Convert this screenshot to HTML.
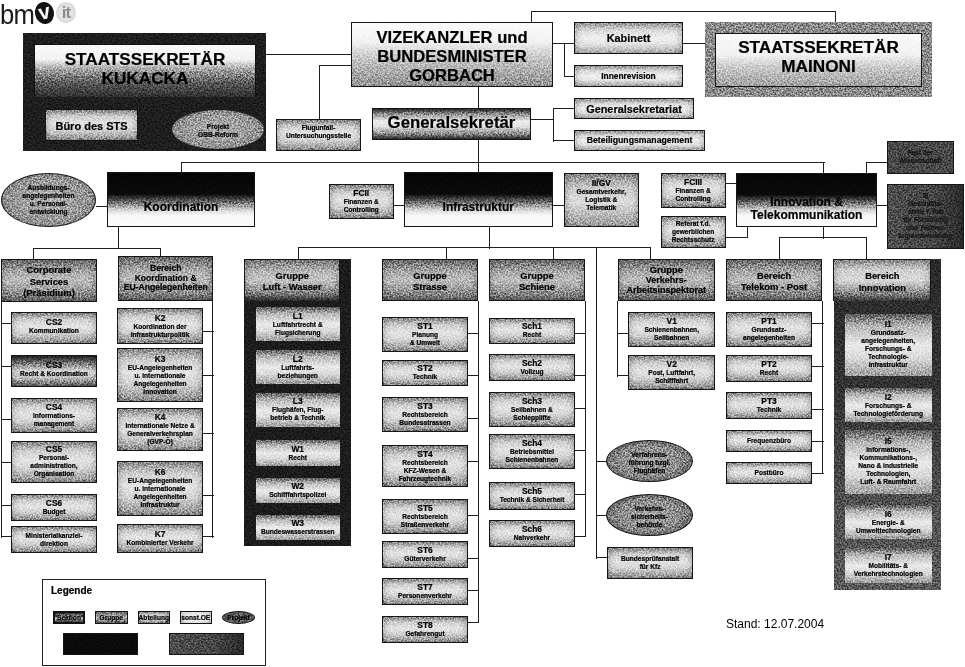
<!DOCTYPE html>
<html><head><meta charset="utf-8"><title>bmvit Organigramm</title>
<style>
html,body{margin:0;padding:0;background:#fff;}
#pg{position:relative;width:965px;height:667px;overflow:hidden;background:#fff;font-family:"Liberation Sans",sans-serif;color:#000;}
.l{position:absolute;background:#1e1e1e;}
.b{position:absolute;box-sizing:border-box;border:1.5px solid #151515;text-align:center;overflow:hidden;display:flex;flex-direction:column;justify-content:center;align-items:center;white-space:nowrap;-webkit-text-stroke:0.2px #000;}
.ab{background:linear-gradient(to bottom,#8a8a8a 0%,#cfcfcf 22%,#e4e4e4 45%,#d6d6d6 65%,#a8a8a8 88%,#858585 100%);}
.gr{background:linear-gradient(to bottom,#6a6a6a 0%,#a9a9a9 30%,#bdbdbd 50%,#9a9a9a 75%,#5e5e5e 100%);}
.sek{background:linear-gradient(to bottom,#050505 0%,#0a0a0a 40%,#6a6a6a 55%,#d8d8d8 70%,#f8f8f8 80%,#fafafa 100%);}
.col{background:#1c1c1c;border:none;}
.ell{border-radius:50%;background:radial-gradient(ellipse at center,#b4b4b4 0%,#969696 55%,#6a6a6a 100%);border:1.2px solid #1a1a1a;}
.ell2{background:radial-gradient(ellipse at center,#a4a4a4 0%,#8c8c8c 50%,#5e5e5e 82%,#363636 100%);border:1.8px solid #111;}
.dk{background:#484848;}
.dk2{background:linear-gradient(to right,#4e4e4e 0%,#464646 60%,#2a2a2a 100%);}
.blk{background:#0a0a0a;}
.stsout{background:#1e1e1e;border:none;}
.stsin{background:linear-gradient(to bottom,#fafafa 0%,#f2f2f2 28%,#a0a0a0 48%,#5a5a5a 72%,#2e2e2e 100%);border:1.5px solid #111;border-bottom:none;}
.stsout2{background:#8a8a8a;border:none;}
.stsin2{background:linear-gradient(to bottom,#fafafa 0%,#f2f2f2 40%,#c8c8c8 65%,#a0a0a0 100%);}
.viz{background:linear-gradient(to bottom,#fbfbfb 0%,#f2f2f2 30%,#c8c8c8 55%,#a8a8a8 80%,#909090 100%);}
.gs{background:linear-gradient(to bottom,#222 0%,#8a8a8a 16%,#ececec 40%,#e2e2e2 58%,#858585 84%,#222 100%);}
.big{font-weight:bold;font-size:17.2px;line-height:19px;}
.big2{font-weight:bold;font-size:16.6px;line-height:19.2px;margin-top:4px;}
.gst{font-weight:bold;font-size:16.8px;line-height:20px;margin-top:-2px;}
.sekt{font-weight:bold;font-size:12px;line-height:13.5px;margin-top:16px;}
.t11b{font-weight:bold;font-size:10.9px;line-height:12px;}
.t10b{font-weight:bold;font-size:10px;line-height:12px;}
.t9b{font-weight:bold;font-size:8.4px;line-height:9px;}
.t7b{font-weight:bold;font-size:6.6px;line-height:8px;}
.t7{font-weight:bold;font-size:6.6px;line-height:8.2px;}
.t6{font-weight:bold;font-size:6.6px;line-height:8px;}
.code{font-weight:bold;font-size:8.4px;line-height:9px;}
.desc{font-weight:bold;font-size:6.6px;line-height:8px;}
.grt{font-weight:bold;font-size:9.4px;line-height:11.5px;margin-top:2px;}
.grt2{font-weight:bold;font-size:8.6px;line-height:9.4px;}
.grt3{font-weight:bold;font-size:9.4px;line-height:10px;}
.grt3 span{font-size:9px;}
.lw{background:linear-gradient(to bottom,#5a5a5a 0%,#b8b8b8 20%,#eaeaea 50%,#d8d8d8 72%,#9a9a9a 100%);border:none;}
.leg{background:#fff;border:1px solid #222;}
.b>div.legt{font-weight:bold;font-size:10px;position:absolute;left:8px;top:5px;line-height:12px;}
.lg{border-width:1.2px;}
.lg2{border-width:1.2px;}
.wh{background:#eee;}
.dkt{color:#222;}
.logo{position:absolute;left:0;top:0;width:80px;height:26px;}
.bm{position:absolute;left:0px;top:0px;font-size:27px;line-height:30px;color:#1a1a1a;transform:scaleX(0.95);transform-origin:0 0;letter-spacing:-0.8px;}
.vc{position:absolute;left:35px;top:1.5px;width:19px;height:22px;border-radius:50%;background:#111;color:#fafafa;text-align:center;font-size:21px;line-height:20px;font-weight:bold;transform:rotate(-12deg);}
.it{position:absolute;left:56px;top:2px;width:20px;height:21px;border-radius:50%;background:radial-gradient(ellipse at center,#f0f0f0 0%,#e0e0e0 55%,#cfcfcf 85%,#f4f4f4 100%);color:#8c8c8c;font-size:17px;line-height:21px;font-weight:bold;text-align:center;letter-spacing:-1px;filter:blur(0.6px);}
.stand{position:absolute;left:726px;top:617px;font-size:12px;line-height:15px;}
.cs3{background:linear-gradient(to bottom,#202020 0%,#7a7a7a 25%,#d8d8d8 50%,#c8c8c8 70%,#555 100%);}
.gvx{background:linear-gradient(to bottom,#8a8a8a 0%,#d0d0d0 30%,#dcdcdc 55%,#999 100%);}

.nz{position:absolute;left:0;top:0;right:0;bottom:0;filter:url(#nf);mix-blend-mode:overlay;opacity:0.5;}
.b>div{position:relative;}

.col2{background:linear-gradient(to bottom,#2a2a2a 0%,#333 40%,#505050 75%,#5a5a5a 100%);border:none;}
.lgs{background:linear-gradient(to bottom,#222 0%,#9a9a9a 35%,#b0b0b0 60%,#333 100%);border:2px solid #111;}
.lge{border-radius:50%;background:radial-gradient(ellipse at center,#707070 0%,#555 70%,#333 100%);border:1.2px solid #111;}
.abl{background:linear-gradient(to bottom,#9a9a9a 0%,#dadada 25%,#f0f0f0 50%,#e4e4e4 70%,#aaaaaa 100%);}
.grx{background:linear-gradient(to bottom,#8a8a8a 0%,#d0d0d0 25%,#d8d8d8 50%,#9a9a9a 75%,#3a3a3a 100%);border:1.5px solid #151515;border-bottom:none;}
.grw{background:linear-gradient(to bottom,#7a7a7a 0%,#b8b8b8 30%,#c4c4c4 50%,#8a8a8a 78%,#2a2a2a 100%);border:1.5px solid #151515;border-bottom:none;}
.c1{padding-bottom:4px;}

.ab,.gr{box-shadow:inset 5px 0 6px -3px rgba(0,0,0,.22),inset -5px 0 6px -3px rgba(0,0,0,.22);}
.lw{box-shadow:none;}

</style></head><body>
<svg width="0" height="0" style="position:absolute"><filter id="nf" x="0" y="0" width="100%" height="100%" color-interpolation-filters="sRGB"><feTurbulence type="fractalNoise" baseFrequency="0.6" numOctaves="3" seed="7"/><feColorMatrix type="matrix" values="2.5 0 0 0 -0.75  2.5 0 0 0 -0.75  2.5 0 0 0 -0.75  0 0 0 0 1"/></filter></svg>
<div id="pg">
<div class="logo"><span class="bm">bm</span><span class="vc">v</span><span class="it">it</span></div>
<div class="l" style="left:266px;top:54px;width:86px;height:1px"></div>
<div class="l" style="left:319px;top:65px;width:33px;height:1px"></div>
<div class="l" style="left:319px;top:65px;width:1px;height:55px"></div>
<div class="l" style="left:531px;top:11px;width:305px;height:1px"></div>
<div class="l" style="left:531px;top:11px;width:1px;height:12px"></div>
<div class="l" style="left:835px;top:11px;width:1px;height:12px"></div>
<div class="l" style="left:478px;top:87px;width:1px;height:22px"></div>
<div class="l" style="left:478px;top:140px;width:1px;height:33px"></div>
<div class="l" style="left:553px;top:43px;width:22px;height:1px"></div>
<div class="l" style="left:564px;top:44px;width:1px;height:33px"></div>
<div class="l" style="left:564px;top:76px;width:11px;height:1px"></div>
<div class="l" style="left:683px;top:43px;width:33px;height:1px"></div>
<div class="l" style="left:531px;top:119px;width:23px;height:1px"></div>
<div class="l" style="left:553px;top:108px;width:1px;height:34px"></div>
<div class="l" style="left:553px;top:108px;width:22px;height:1px"></div>
<div class="l" style="left:553px;top:140px;width:22px;height:1px"></div>
<div class="l" style="left:181px;top:162px;width:644px;height:1px"></div>
<div class="l" style="left:181px;top:162px;width:1px;height:11px"></div>
<div class="l" style="left:823px;top:162px;width:1px;height:12px"></div>
<div class="l" style="left:96px;top:206px;width:12px;height:1px"></div>
<div class="l" style="left:394px;top:205px;width:11px;height:1px"></div>
<div class="l" style="left:553px;top:205px;width:12px;height:1px"></div>
<div class="l" style="left:726px;top:183px;width:11px;height:1px"></div>
<div class="l" style="left:726px;top:237px;width:22px;height:1px"></div>
<div class="l" style="left:747px;top:227px;width:1px;height:11px"></div>
<div class="l" style="left:866px;top:162px;width:22px;height:1px"></div>
<div class="l" style="left:866px;top:162px;width:1px;height:12px"></div>
<div class="l" style="left:877px;top:205px;width:11px;height:1px"></div>
<div class="l" style="left:118px;top:227px;width:1px;height:22px"></div>
<div class="l" style="left:33px;top:248px;width:128px;height:1px"></div>
<div class="l" style="left:33px;top:248px;width:1px;height:12px"></div>
<div class="l" style="left:160px;top:248px;width:1px;height:9px"></div>
<div class="l" style="left:489px;top:227px;width:1px;height:22px"></div>
<div class="l" style="left:298px;top:247px;width:353px;height:1px"></div>
<div class="l" style="left:298px;top:248px;width:1px;height:12px"></div>
<div class="l" style="left:446px;top:248px;width:1px;height:12px"></div>
<div class="l" style="left:553px;top:248px;width:1px;height:12px"></div>
<div class="l" style="left:650px;top:248px;width:1px;height:12px"></div>
<div class="l" style="left:596px;top:248px;width:1px;height:311px"></div>
<div class="l" style="left:823px;top:227px;width:1px;height:12px"></div>
<div class="l" style="left:779px;top:237px;width:88px;height:1px"></div>
<div class="l" style="left:779px;top:238px;width:1px;height:22px"></div>
<div class="l" style="left:866px;top:238px;width:1px;height:22px"></div>
<div class="l" style="left:1px;top:302px;width:1px;height:236px"></div>
<div class="l" style="left:1px;top:323px;width:11px;height:1px"></div>
<div class="l" style="left:1px;top:366px;width:11px;height:1px"></div>
<div class="l" style="left:1px;top:419px;width:11px;height:1px"></div>
<div class="l" style="left:1px;top:462px;width:11px;height:1px"></div>
<div class="l" style="left:1px;top:505px;width:11px;height:1px"></div>
<div class="l" style="left:1px;top:536px;width:11px;height:1px"></div>
<div class="l" style="left:212px;top:301px;width:1px;height:237px"></div>
<div class="l" style="left:203px;top:331px;width:11px;height:1px"></div>
<div class="l" style="left:203px;top:375px;width:11px;height:1px"></div>
<div class="l" style="left:203px;top:433px;width:11px;height:1px"></div>
<div class="l" style="left:203px;top:495px;width:11px;height:1px"></div>
<div class="l" style="left:203px;top:536px;width:11px;height:1px"></div>
<div class="l" style="left:478px;top:301px;width:1px;height:322px"></div>
<div class="l" style="left:468px;top:333px;width:11px;height:1px"></div>
<div class="l" style="left:468px;top:375px;width:11px;height:1px"></div>
<div class="l" style="left:468px;top:418px;width:11px;height:1px"></div>
<div class="l" style="left:468px;top:461px;width:11px;height:1px"></div>
<div class="l" style="left:468px;top:515px;width:11px;height:1px"></div>
<div class="l" style="left:468px;top:558px;width:11px;height:1px"></div>
<div class="l" style="left:468px;top:590px;width:11px;height:1px"></div>
<div class="l" style="left:468px;top:622px;width:11px;height:1px"></div>
<div class="l" style="left:585px;top:301px;width:1px;height:236px"></div>
<div class="l" style="left:575px;top:333px;width:11px;height:1px"></div>
<div class="l" style="left:575px;top:375px;width:11px;height:1px"></div>
<div class="l" style="left:575px;top:408px;width:11px;height:1px"></div>
<div class="l" style="left:575px;top:450px;width:11px;height:1px"></div>
<div class="l" style="left:575px;top:494px;width:11px;height:1px"></div>
<div class="l" style="left:575px;top:536px;width:11px;height:1px"></div>
<div class="l" style="left:597px;top:461px;width:10px;height:1px"></div>
<div class="l" style="left:597px;top:515px;width:10px;height:1px"></div>
<div class="l" style="left:597px;top:557px;width:11px;height:1px"></div>
<div class="l" style="left:617px;top:301px;width:1px;height:76px"></div>
<div class="l" style="left:618px;top:333px;width:11px;height:1px"></div>
<div class="l" style="left:618px;top:375px;width:11px;height:1px"></div>
<div class="l" style="left:822px;top:301px;width:1px;height:173px"></div>
<div class="l" style="left:812px;top:323px;width:12px;height:1px"></div>
<div class="l" style="left:812px;top:366px;width:12px;height:1px"></div>
<div class="l" style="left:812px;top:409px;width:12px;height:1px"></div>
<div class="l" style="left:812px;top:441px;width:12px;height:1px"></div>
<div class="l" style="left:812px;top:473px;width:12px;height:1px"></div>
<div class="b stsout" style="left:23px;top:33px;width:243px;height:118px;"><i class="nz"></i></div>
<div class="b stsin" style="left:34px;top:44px;width:222px;height:53px;"><i class="nz"></i><div class="big" style="margin-top:-4px">STAATSSEKRETÄR<br>KUKACKA</div></div>
<div class="b ab bur" style="left:45px;top:109px;width:93px;height:32px;"><i class="nz"></i><div class="t10b" style="font-size:11px;margin-top:2px">Büro des STS</div></div>
<div class="b ell" style="left:171px;top:109px;width:94px;height:41px;"><i class="nz"></i><div class="t7" style="margin-top:3px">Projekt<br>ÖBB-Reform</div></div>
<div class="b viz" style="left:351px;top:22px;width:202px;height:65px;"><i class="nz"></i><div class="big2">VIZEKANZLER und<br>BUNDESMINISTER<br>GORBACH</div></div>
<div class="b ab" style="left:276px;top:119px;width:85px;height:32px;"><i class="nz"></i><div class="t7b" style="margin-top:-6px">Flugunfall-<br>Untersuchungsstelle</div></div>
<div class="b gs" style="left:372px;top:108px;width:159px;height:32px;"><i class="nz"></i><div class="gst">Generalsekretär</div></div>
<div class="b ab abl" style="left:574px;top:22px;width:109px;height:32px;"><i class="nz"></i><div class="t11b">Kabinett</div></div>
<div class="b ab abl" style="left:574px;top:65px;width:109px;height:22px;"><i class="nz"></i><div class="t9b">Innenrevision</div></div>
<div class="b ab abl" style="left:574px;top:98px;width:120px;height:21px;"><i class="nz"></i><div class="t11b">Generalsekretariat</div></div>
<div class="b ab abl" style="left:574px;top:130px;width:131px;height:21px;"><i class="nz"></i><div class="t9b" style="font-size:8.7px">Beteiligungsmanagement</div></div>
<div class="b stsout2" style="left:705px;top:22px;width:227px;height:75px;"><i class="nz"></i></div>
<div class="b stsin2" style="left:715px;top:33px;width:207px;height:54px;"><i class="nz"></i><div class="big" style="margin-top:-6px">STAATSSEKRETÄR<br>MAINONI</div></div>
<div class="b sek" style="left:107px;top:172px;width:148px;height:55px;"><i class="nz"></i><div class="sekt">Koordination</div></div>
<div class="b ell" style="left:1px;top:173px;width:95px;height:54px;"><i class="nz"></i><div class="t7">Ausbildungs-<br>angelegenheiten<br>u. Personal-<br>entwicklung</div></div>
<div class="b ab" style="left:329px;top:183.5px;width:64.5px;height:35.5px;"><i class="nz"></i><div class="t9b">FCII</div><div class="t7b">Finanzen &amp;<br>Controlling</div></div>
<div class="b sek" style="left:403.5px;top:172px;width:149.5px;height:55px;"><i class="nz"></i><div class="sekt">Infrastruktur</div></div>
<div class="b ab gvx" style="left:563.5px;top:173px;width:75.5px;height:54px;"><i class="nz"></i><div class="t9b" style="margin-top:-9px">II/GV</div><div class="t7b">Gesamtverkehr,<br>Logistik &amp;<br>Telematik</div></div>
<div class="b ab" style="left:660.5px;top:173px;width:65.2px;height:35px;"><i class="nz"></i><div class="t9b">FCIII</div><div class="t7b">Finanzen &amp;<br>Controlling</div></div>
<div class="b ab" style="left:660.5px;top:216px;width:65.2px;height:32px;"><i class="nz"></i><div class="t7b">Referat f.d.<br>gewerblichen<br>Rechtsschutz</div></div>
<div class="b sek" style="left:736px;top:173px;width:141px;height:54px;"><i class="nz"></i><div class="sekt" style="margin-top:18px">Innovation &amp;<br>Telekommunikation</div></div>
<div class="b dk" style="left:887px;top:140.5px;width:66.5px;height:33px;"><i class="nz"></i><div class="t7b dkt">Fast der<br>Wissenschaft</div></div>
<div class="b dk2" style="left:887px;top:183.5px;width:77px;height:65.5px;"><i class="nz"></i><div class="t7b dkt">I8<br>Geschäfts-<br>stelle f. Rat<br>für Forschung<br>und Techno-<br>logieentwicklung</div></div>
<div class="b gr" style="left:1px;top:259px;width:96px;height:43px;"><i class="nz"></i><div class="grt">Corporate<br>Services<br>(Präsidium)</div></div>
<div class="b ab c1" style="left:11px;top:312.2px;width:86px;height:31.8px;"><i class="nz"></i><div class="code">CS2</div><div class="desc">Kommunikation</div></div>
<div class="b ab cs3 c1" style="left:11px;top:355px;width:86px;height:32px;"><i class="nz"></i><div class="code">CS3</div><div class="desc">Recht &amp; Koordination</div></div>
<div class="b ab" style="left:11px;top:397.5px;width:86px;height:35.5px;"><i class="nz"></i><div class="code">CS4</div><div class="desc">Informations-<br>management</div></div>
<div class="b ab" style="left:11px;top:440.5px;width:86px;height:42.5px;"><i class="nz"></i><div class="code">CS5</div><div class="desc">Personal-<br>administration,<br>Organisation</div></div>
<div class="b ab" style="left:11px;top:494px;width:86px;height:27px;"><i class="nz"></i><div class="code">CS6</div><div class="desc">Budget</div></div>
<div class="b ab" style="left:11px;top:526px;width:86px;height:27.4px;"><i class="nz"></i><div class="desc">Ministerialkanzlei-<br>direktion</div></div>
<div class="b gr" style="left:118px;top:256px;width:95.4px;height:44.5px;"><i class="nz"></i><div class="grt2">Bereich<br>Koordination &amp;<br>EU-Angelegenheiten</div></div>
<div class="b ab" style="left:117.4px;top:307.7px;width:85.3px;height:36.8px;"><i class="nz"></i><div class="code">K2</div><div class="desc">Koordination der<br>Infrastrukturpolitik</div></div>
<div class="b ab" style="left:117.4px;top:348px;width:85.3px;height:54.4px;"><i class="nz"></i><div class="code">K3</div><div class="desc">EU-Angelegenheiten<br>u. internationale<br>Angelegenheiten<br>Innovation</div></div>
<div class="b ab" style="left:117.4px;top:408px;width:85.3px;height:43px;"><i class="nz"></i><div class="code">K4</div><div class="desc">Internationale Netze &amp;<br>Generalverkehrsplan<br>(GVP-Ö)</div></div>
<div class="b ab" style="left:117.4px;top:461px;width:85.3px;height:55px;"><i class="nz"></i><div class="code">K6</div><div class="desc">EU-Angelegenheiten<br>u. internationale<br>Angelegenheiten<br>Infrastruktur</div></div>
<div class="b ab" style="left:117.4px;top:524.3px;width:85.3px;height:28.7px;"><i class="nz"></i><div class="code">K7</div><div class="desc">Kombinierter Verkehr</div></div>
<div class="b col" style="left:244px;top:259px;width:106.5px;height:287px;"><i class="nz"></i></div>
<div class="b gr grw" style="left:244px;top:258.6px;width:96.4px;height:42.1px;"><i class="nz"></i><div class="grt">Gruppe<br>Luft - Wasser</div></div>
<div class="b ab lw" style="left:255.5px;top:307.4px;width:84.5px;height:33.6px;"><i class="nz"></i><div class="code">L1</div><div class="desc">Luftfahrtrecht &amp;<br>Flugsicherung</div></div>
<div class="b ab lw" style="left:255.5px;top:350px;width:84.5px;height:34px;"><i class="nz"></i><div class="code">L2</div><div class="desc">Luftfahrts-<br>beziehungen</div></div>
<div class="b ab lw" style="left:255.5px;top:392.5px;width:84.5px;height:34.5px;"><i class="nz"></i><div class="code">L3</div><div class="desc">Flughäfen, Flug-<br>betrieb &amp; Technik</div></div>
<div class="b ab lw" style="left:255.5px;top:440.4px;width:84.5px;height:26px;"><i class="nz"></i><div class="code">W1</div><div class="desc">Recht</div></div>
<div class="b ab lw" style="left:255.5px;top:478px;width:84.5px;height:25.4px;"><i class="nz"></i><div class="code">W2</div><div class="desc">Schifffahrtspolizei</div></div>
<div class="b ab lw" style="left:255.5px;top:515px;width:84.5px;height:25px;"><i class="nz"></i><div class="code">W3</div><div class="desc">Bundeswasserstrassen</div></div>
<div class="b gr" style="left:382px;top:259px;width:96px;height:42px;"><i class="nz"></i><div class="grt">Gruppe<br>Strasse</div></div>
<div class="b ab" style="left:382px;top:317px;width:86px;height:35px;"><i class="nz"></i><div class="code">ST1</div><div class="desc">Planung<br>&amp; Umwelt</div></div>
<div class="b ab" style="left:382px;top:359.5px;width:86px;height:26.5px;"><i class="nz"></i><div class="code">ST2</div><div class="desc">Technik</div></div>
<div class="b ab" style="left:382px;top:397px;width:86px;height:35px;"><i class="nz"></i><div class="code">ST3</div><div class="desc">Rechtsbereich<br>Bundesstrassen</div></div>
<div class="b ab" style="left:382px;top:445.4px;width:86px;height:41.6px;"><i class="nz"></i><div class="code">ST4</div><div class="desc">Rechtsbereich<br>KFZ-Wesen &amp;<br>Fahrzeugtechnik</div></div>
<div class="b ab" style="left:382px;top:498.6px;width:86px;height:35.2px;"><i class="nz"></i><div class="code">ST5</div><div class="desc">Rechtsbereich<br>Straßenverkehr</div></div>
<div class="b ab" style="left:382px;top:541px;width:86px;height:27px;"><i class="nz"></i><div class="code">ST6</div><div class="desc">Güterverkehr</div></div>
<div class="b ab" style="left:382px;top:578.4px;width:86px;height:27.1px;"><i class="nz"></i><div class="code">ST7</div><div class="desc">Personenverkehr</div></div>
<div class="b ab" style="left:382px;top:615.8px;width:86px;height:27.5px;"><i class="nz"></i><div class="code">ST8</div><div class="desc">Gefahrengut</div></div>
<div class="b gr" style="left:489px;top:259px;width:96px;height:42px;"><i class="nz"></i><div class="grt">Gruppe<br>Schiene</div></div>
<div class="b ab" style="left:489px;top:317.5px;width:86px;height:26.5px;"><i class="nz"></i><div class="code">Sch1</div><div class="desc">Recht</div></div>
<div class="b ab" style="left:489px;top:354px;width:86px;height:27px;"><i class="nz"></i><div class="code">Sch2</div><div class="desc">Vollzug</div></div>
<div class="b ab" style="left:489px;top:392px;width:86px;height:34.8px;"><i class="nz"></i><div class="code">Sch3</div><div class="desc">Seilbahnen &amp;<br>Schlepplifte</div></div>
<div class="b ab" style="left:489px;top:434.4px;width:86px;height:34.9px;"><i class="nz"></i><div class="code">Sch4</div><div class="desc">Betriebsmittel<br>Schienenbahnen</div></div>
<div class="b ab" style="left:489px;top:482px;width:86px;height:27.6px;"><i class="nz"></i><div class="code">Sch5</div><div class="desc">Technik &amp; Sicherheit</div></div>
<div class="b ab" style="left:489px;top:520px;width:86px;height:27px;"><i class="nz"></i><div class="code">Sch6</div><div class="desc">Nahverkehr</div></div>
<div class="b ell ell2" style="left:605.5px;top:440px;width:87.9px;height:42.4px;"><i class="nz"></i><div class="t7" style="margin-top:4px">Verfahrens-<br>führung bzgl.<br>Flughäfen</div></div>
<div class="b ell ell2" style="left:605.5px;top:494px;width:87.9px;height:42px;"><i class="nz"></i><div class="t7" style="margin-top:4px">Verkehrs-<br>sicherheits-<br>behörde</div></div>
<div class="b ab" style="left:606.8px;top:547.4px;width:86.6px;height:31.6px;"><i class="nz"></i><div class="t7b">Bundesprüfanstalt<br>für Kfz</div></div>
<div class="b gr" style="left:617.7px;top:259px;width:97.3px;height:42px;"><i class="nz"></i><div class="grt3">Gruppe<br><span>Verkehrs-<br>Arbeitsinspektorat</span></div></div>
<div class="b ab" style="left:628.4px;top:312.4px;width:86.6px;height:34.9px;"><i class="nz"></i><div class="code">V1</div><div class="desc">Schienenbahnen,<br>Seilbahnen</div></div>
<div class="b ab" style="left:628.4px;top:355px;width:86.6px;height:34.6px;"><i class="nz"></i><div class="code">V2</div><div class="desc">Post, Luftfahrt,<br>Schifffahrt</div></div>
<div class="b gr" style="left:725.7px;top:259px;width:96.8px;height:42px;"><i class="nz"></i><div class="grt">Bereich<br>Telekom - Post</div></div>
<div class="b ab" style="left:725.7px;top:312.4px;width:86.6px;height:34.6px;"><i class="nz"></i><div class="code">PT1</div><div class="desc">Grundsatz-<br>angelegenheiten</div></div>
<div class="b ab" style="left:725.7px;top:355px;width:86.6px;height:27px;"><i class="nz"></i><div class="code">PT2</div><div class="desc">Recht</div></div>
<div class="b ab" style="left:725.7px;top:392px;width:86.6px;height:27px;"><i class="nz"></i><div class="code">PT3</div><div class="desc">Technik</div></div>
<div class="b ab" style="left:725.7px;top:430px;width:86.6px;height:21.5px;"><i class="nz"></i><div class="desc">Frequenzbüro</div></div>
<div class="b ab" style="left:725.7px;top:462px;width:86.6px;height:21.6px;"><i class="nz"></i><div class="desc">Postbüro</div></div>
<div class="b col2" style="left:833.5px;top:259px;width:107px;height:331px;"><i class="nz"></i></div>
<div class="b gr grx" style="left:833.3px;top:259px;width:98.1px;height:42px;"><i class="nz"></i><div class="grt">Bereich<br>Innovation</div></div>
<div class="b ab lw" style="left:845px;top:313.7px;width:86.5px;height:62.3px;"><i class="nz"></i><div class="code">I1</div><div class="desc">Grundsatz-<br>angelegenheiten,<br>Forschungs- &amp;<br>Technologie-<br>infrastruktur</div></div>
<div class="b ab lw" style="left:845px;top:387.6px;width:86.5px;height:34.9px;"><i class="nz"></i><div class="code">I2</div><div class="desc">Forschungs- &amp;<br>Technologieförderung</div></div>
<div class="b ab lw" style="left:845px;top:430px;width:86.5px;height:63.5px;"><i class="nz"></i><div class="code">I5</div><div class="desc">Informations-,<br>Kommunikations-,<br>Nano &amp; industrielle<br>Technologien,<br>Luft- &amp; Raumfahrt</div></div>
<div class="b ab lw" style="left:845px;top:505px;width:86.5px;height:34.3px;"><i class="nz"></i><div class="code">I6</div><div class="desc">Energie- &amp;<br>Umwelttechnologien</div></div>
<div class="b ab lw" style="left:845px;top:548.3px;width:86.5px;height:34.4px;"><i class="nz"></i><div class="code">I7</div><div class="desc">Mobilitäts- &amp;<br>Verkehrstechnologien</div></div>
<div class="b leg" style="left:42px;top:578.6px;width:224px;height:87.1px;"><div class="legt">Legende</div></div>
<div class="b lgs" style="left:53px;top:611px;width:32px;height:13px;"><i class="nz"></i><div class="t6">"Sektion"</div></div>
<div class="b gr lg" style="left:95px;top:611px;width:32.6px;height:13px;"><i class="nz"></i><div class="t6">Gruppe</div></div>
<div class="b ab lg" style="left:138px;top:611px;width:31.6px;height:13px;"><i class="nz"></i><div class="t6">Abteilung</div></div>
<div class="b ab lg wh" style="left:179.6px;top:611px;width:32.4px;height:13px;"><i class="nz"></i><div class="t6">sonst.OE</div></div>
<div class="b lge" style="left:222px;top:611px;width:33px;height:13px;"><i class="nz"></i><div class="t6">Projekt</div></div>
<div class="b blk" style="left:63px;top:632.5px;width:75px;height:22.5px;"><i class="nz"></i></div>
<div class="b dk2" style="left:169px;top:632.5px;width:75px;height:22.5px;"><i class="nz"></i></div>
<div class="stand">Stand: 12.07.2004</div>
</div>
</body></html>
